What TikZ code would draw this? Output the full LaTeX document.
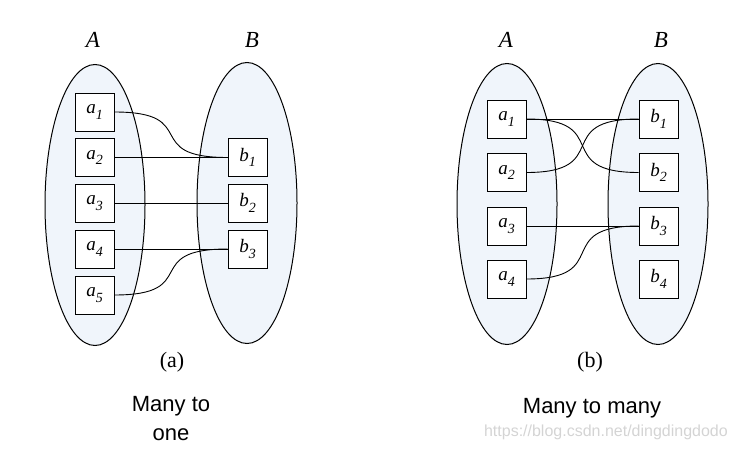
\documentclass[tikz,border=0pt]{standalone}
\usepackage{fontspec}
\newfontfamily\arialfont{Liberation Sans}
\newfontfamily\serfont{Liberation Serif}
\usetikzlibrary{shapes.geometric}
\definecolor{setfill}{RGB}{240,245,251}
\definecolor{wmgray}{RGB}{212,212,212}
\newcommand{\elt}[2]{{\serfont\itshape\fontsize{19}{20}\selectfont #1\raisebox{-5.5pt}{\fontsize{14}{15}\selectfont #2}}}
\tikzset{
  setell/.style={ellipse, draw, line width=1pt, fill=setfill, minimum width=100pt, minimum height=281pt, inner sep=0pt},
  elbox/.style={draw, line width=0.85pt, fill=white, minimum width=39pt, minimum height=38pt, inner sep=0pt},
  setlab/.style={inner sep=0pt, font=\serfont\itshape\fontsize{23}{26}\selectfont},
  caplab/.style={inner sep=0pt, font=\serfont\fontsize{22}{25}\selectfont},
  desc/.style={font=\arialfont\fontsize{22}{29}\selectfont, align=center},
  conn/.style={line width=0.9pt},
}
\begin{document}
\begin{tikzpicture}[x=1pt,y=-1pt]
\useasboundingbox (0,0) rectangle (738,449);
% ---------- (a) many to one ----------
\node[setell] (EA) at (95,205) {};
\node[setell] (EB) at (247,203) {};
\node[setlab] (LA) at (93,40) {A};
\node[setlab] (LB) at (252,40) {B};
\node[elbox] (a1) at (94.5,112) {\elt{a}{1}};
\node[elbox] (a2) at (94.5,157.5) {\elt{a}{2}};
\node[elbox] (a3) at (94.5,203) {\elt{a}{3}};
\node[elbox] (a4) at (94.5,249) {\elt{a}{4}};
\node[elbox] (a5) at (94.5,295) {\elt{a}{5}};
\node[elbox] (b1) at (247.5,157.5) {\elt{b}{1}};
\node[elbox] (b2) at (247.5,203) {\elt{b}{2}};
\node[elbox] (b3) at (247.5,249) {\elt{b}{3}};
\draw[conn] (a1.east) .. controls +(88,0) and +(-88,0) .. (b1.west);
\draw[conn] (a2.east) -- (b1.west);
\draw[conn] (a3.east) -- (b2.west);
\draw[conn] (a4.east) -- (b3.west);
\draw[conn] (a5.east) .. controls +(88,0) and +(-88,0) .. (b3.west);
\node[caplab] (capa) at (172,362) {(a)};
\node[desc, anchor=base] (desca) at (171,440) {Many to\\one};
% ---------- (b) many to many ----------
\node[setell] (FA) at (507,204) {};
\node[setell] (FB) at (658,204) {};
\node[setlab] (MA) at (506,40) {A};
\node[setlab] (MB) at (661,40) {B};
\node[elbox] (c1) at (506.5,119) {\elt{a}{1}};
\node[elbox] (c2) at (506.5,172.5) {\elt{a}{2}};
\node[elbox] (c3) at (506.5,226) {\elt{a}{3}};
\node[elbox] (c4) at (506.5,279) {\elt{a}{4}};
\node[elbox] (d1) at (658.5,119) {\elt{b}{1}};
\node[elbox] (d2) at (658.5,172.5) {\elt{b}{2}};
\node[elbox] (d3) at (658.5,226) {\elt{b}{3}};
\node[elbox] (d4) at (658.5,279) {\elt{b}{4}};
\draw[conn] (c1.east) -- (d1.west);
\draw[conn] (c1.east) .. controls +(88,0) and +(-88,0) .. (d2.west);
\draw[conn] (c2.east) .. controls +(88,0) and +(-88,0) .. (d1.west);
\draw[conn] (c3.east) -- (d3.west);
\draw[conn] (c4.east) .. controls +(88,0) and +(-88,0) .. (d3.west);
\node[caplab] (capb) at (590,362) {(b)};
\node[desc, anchor=base] (descb) at (592,413) {Many to many};
\node[font=\arialfont\fontsize{16}{18}\selectfont, text=wmgray, anchor=base east, inner sep=0pt] (wm) at (728,436) {https://blog.csdn.net/dingdingdodo};
\end{tikzpicture}
\end{document}
